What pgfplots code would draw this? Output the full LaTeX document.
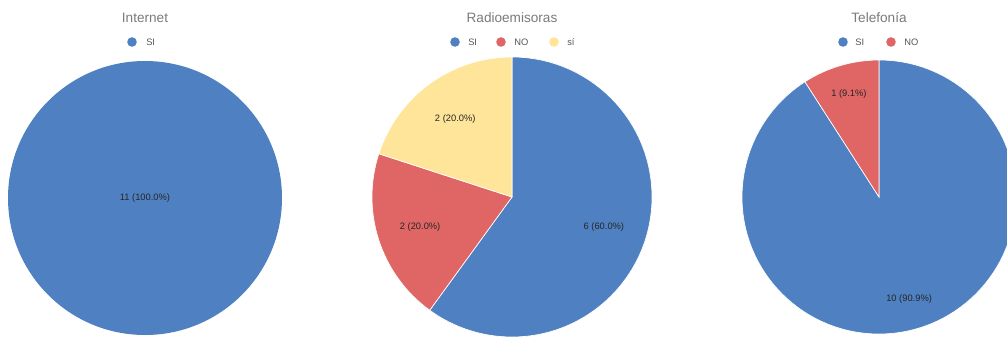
\documentclass[border=0pt]{standalone}
\usepackage{pgfplots}
\pgfplotsset{compat=1.18}
\usepackage{fontspec}
\setmainfont{Liberation Sans}
\definecolor{pblue}{HTML}{4F81C2}
\definecolor{pred}{HTML}{E06666}
\definecolor{pyel}{HTML}{FFE599}
\definecolor{tgrey}{HTML}{7A7A7A}
\definecolor{lgrey}{HTML}{555555}
\tikzset{
  slicelabel/.style={font=\fontsize{7}{8}\selectfont, text=black!85, inner sep=0pt},
  ptitle/.style={font=\fontsize{10.2}{12}\selectfont, text=tgrey},
  plegend/.style={font=\fontsize{7}{8}\selectfont, text=lgrey, anchor=west, inner sep=0pt},
}
% #1 cx, #2 cy (axis px), #3 radius px, #4 label distance factor, #5 list value/colour
\newcommand\piechart[5]{%
  \gdef\pietot{0}%
  \foreach \v/\c in {#5}{\pgfmathparse{\pietot+\v}\xdef\pietot{\pgfmathresult}}%
  \foreach \v/\c [remember=\pieend as \piestart (initially 90)] in {#5}{%
    \pgfmathsetmacro\pieend{\piestart-360*\v/\pietot}%
    \pgfmathsetmacro\piemid{(\piestart+\pieend)/2}%
    \pgfmathsetmacro\lx{#1+#4*#3*cos(\piemid)}%
    \pgfmathsetmacro\ly{#2+#4*#3*sin(\piemid)}%
    \pgfmathtruncatemacro\tenths{round(1000*\v/\pietot)}%
    \pgfmathtruncatemacro\ipart{\tenths/10}%
    \pgfmathtruncatemacro\fpart{\tenths-10*\ipart}%
    \ifnum\tenths=1000
      \edef\temp{\noexpand\fill[\c] (axis cs:#1,#2) circle[radius=#3*0.75pt];}%
    \else
      \edef\temp{\noexpand\fill[\c, draw=white, line width=0.5pt] (axis cs:#1,#2) -- ++(\piestart:#3*0.75pt) arc[start angle=\piestart, end angle=\pieend, radius=#3*0.75pt] -- cycle;}%
    \fi
    \temp
    \edef\temp{\noexpand\node[slicelabel] at (axis cs:\lx,\ly) {\v\space(\ipart.\fpart\%)};}%
    \temp
  }%
}
\begin{document}
\begin{tikzpicture}
\begin{axis}[hide axis, x=0.75pt, y=0.75pt, xmin=0, xmax=1007, ymin=0, ymax=344,
  clip=false, scale only axis]
  % Internet
  \piechart{145}{146}{137}{0}{11/pblue}
  % Radioemisoras
  \piechart{512}{147}{140}{0.69}{6/pblue,2/pred,2/pyel}
  % Telefonia
  \piechart{879}{147}{137}{0.78}{10/pblue,1/pred}
  % titles
  \node[ptitle] at (axis cs:145,326) {Internet};
  \node[ptitle] at (axis cs:512,326) {Radioemisoras};
  \node[ptitle] at (axis cs:879,326) {Telefonía};
  % legends
  \fill[pblue] (axis cs:132,302) circle[radius=3.6pt];
  \node[plegend] at (axis cs:146,302) {SI};
  \fill[pblue] (axis cs:455,302) circle[radius=3.6pt];
  \node[plegend] at (axis cs:468,302) {SI};
  \fill[pred] (axis cs:501,302) circle[radius=3.6pt];
  \node[plegend] at (axis cs:514,302) {NO};
  \fill[pyel] (axis cs:554,302) circle[radius=3.6pt];
  \node[plegend] at (axis cs:567,302) {sí};
  \fill[pblue] (axis cs:843,302) circle[radius=3.6pt];
  \node[plegend] at (axis cs:855,302) {SI};
  \fill[pred] (axis cs:891,302) circle[radius=3.6pt];
  \node[plegend] at (axis cs:904,302) {NO};
\end{axis}
\pgfresetboundingbox
\path[use as bounding box] (0,0) rectangle (755.25pt,258pt);
\end{tikzpicture}
\end{document}
